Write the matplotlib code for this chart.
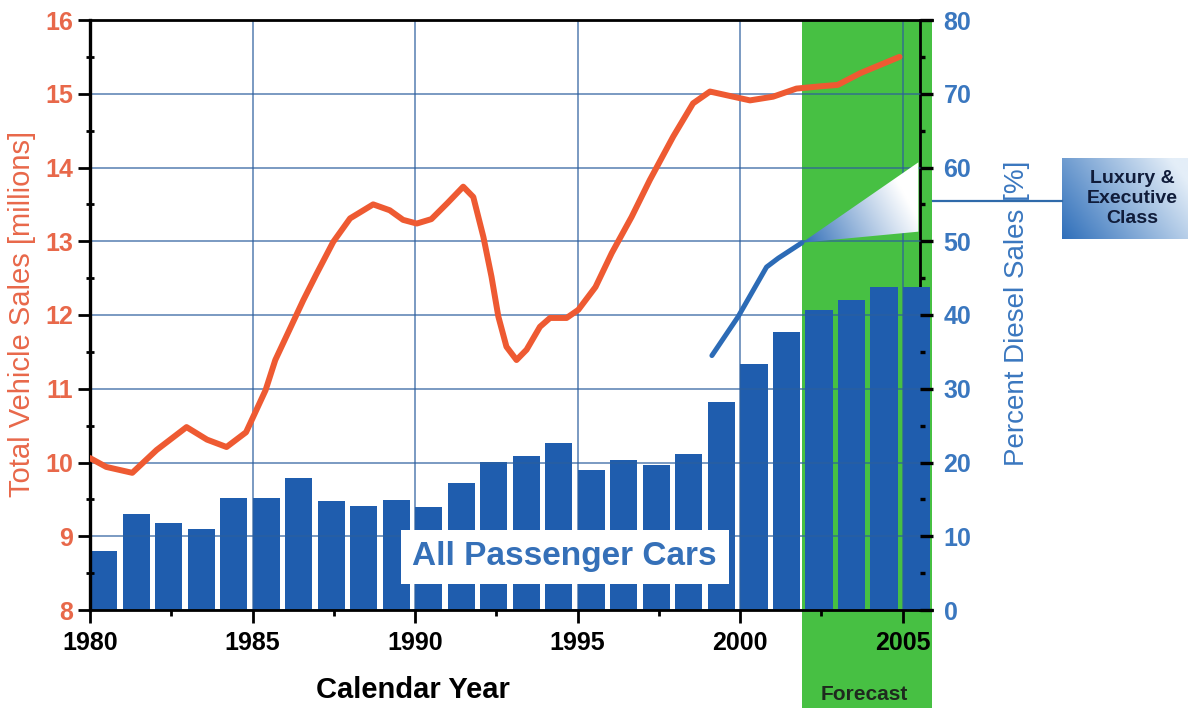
import numpy as np
import matplotlib
matplotlib.use("Agg")
import matplotlib.pyplot as plt
from matplotlib.patches import Polygon, Rectangle
from matplotlib.lines import Line2D
from matplotlib.ticker import MultipleLocator

plt.rcParams['font.family'] = ['Liberation Sans', 'DejaVu Sans']

# ---- data -------------------------------------------------------------
years = list(range(1980, 2006))
diesel_share = [8.0, 13.0, 11.8, 11.0, 15.2, 15.2, 17.9, 14.8, 14.1, 14.9,
                14.0, 17.2, 20.1, 20.9, 22.6, 19.0, 20.3, 19.7, 21.2, 28.2,
                33.4, 37.7, 40.7, 42.0, 43.8, 43.8]

sales_years = [1980.0, 1980.5, 1981.3, 1982.05, 1982.97, 1983.6, 1984.2, 1984.8,
               1985.0, 1985.4, 1985.7, 1986.56, 1986.96, 1987.48, 1988.0,
               1988.71, 1989.22, 1989.63, 1990.05, 1990.5, 1991.0, 1991.48,
               1991.79, 1992.1, 1992.35, 1992.56, 1992.81, 1993.12, 1993.43,
               1993.84, 1994.15, 1994.66, 1995.02, 1995.55, 1996.05, 1996.66,
               1997.22, 1997.94, 1998.55, 1999.07, 1999.58, 2000.3, 2001.01,
               2001.73, 2002.45, 2003.0, 2003.7, 2004.9]
sales_millions = [10.06, 9.94, 9.86, 10.17, 10.48, 10.31, 10.21, 10.41,
                  10.6, 10.98, 11.39, 12.2, 12.55, 12.99, 13.31,
                  13.5, 13.42, 13.29, 13.24, 13.3, 13.52, 13.74,
                  13.6, 13.06, 12.52, 11.98, 11.57, 11.39, 11.53,
                  11.84, 11.96, 11.96, 12.07, 12.38, 12.84, 13.33,
                  13.83, 14.42, 14.87, 15.03, 14.98, 14.91, 14.96,
                  15.07, 15.1, 15.12, 15.28, 15.5]

lux_years = [1999.13, 1999.94, 2000.81, 2001.17, 2001.9]
lux_share = [34.5, 39.8, 46.5, 47.7, 49.8]

# luxury forecast wedge: apex, upper and lower end
wedge_x = [2001.9, 2005.48, 2005.48]
wedge_y = [49.8, 60.7, 51.3]

forecast_start, forecast_end = 2001.91, 2005.9

# ---- colours ----------------------------------------------------------
ORANGE = '#EE5A32'
ORANGE_TXT = '#E8684A'
BAR_BLUE = '#1F5DAE'
LINE_BLUE = '#2C6BB6'
AXIS_BLUE = '#3A77BF'
GREEN = '#47C043'
GRID = '#2C5F9E'

W, H = 1191, 708
fig = plt.figure(figsize=(W / 100, H / 100), dpi=100)
fig.patch.set_facecolor('white')


def fx(px):
    return px / W


def fy(py):
    return 1 - py / H


ax = fig.add_axes([fx(90), fy(610), fx(932) - fx(90), fy(20) - fy(610)])
ax.set_xlim(1980, 2005.9)
ax.set_ylim(8, 16)
ax2 = ax.twinx()
ax2.set_ylim(0, 80)
ax.set_zorder(ax2.get_zorder() + 1)
ax.patch.set_visible(False)

# forecast band (also continues below the x axis)
ax2.axvspan(forecast_start, forecast_end, color=GREEN, zorder=0.5, lw=0)
ax2.add_patch(Rectangle((forecast_start, -0.25), forecast_end - forecast_start, 0.25,
                        transform=ax2.get_xaxis_transform(), clip_on=False,
                        color=GREEN, lw=0, zorder=0.5))

# diesel share bars
ax2.bar(years, diesel_share, width=0.84, align='edge', color=BAR_BLUE, zorder=1)

# grid lives on the percent axes so it sits over the bars
ax2.xaxis.set_visible(True)
ax2.xaxis.set_major_locator(MultipleLocator(5))
ax2.tick_params(axis='x', which='both', length=0, labelbottom=False, labeltop=False)
ax2.yaxis.set_major_locator(MultipleLocator(10))
ax2.yaxis.set_minor_locator(MultipleLocator(5))
ax2.grid(True, which='major', color=GRID, lw=1.1, alpha=0.8)

# luxury & executive class line and wedge
ax2.plot(lux_years, lux_share, color=LINE_BLUE, lw=3.6, solid_capstyle='round',
         solid_joinstyle='round', zorder=3)
poly = Polygon(list(zip(wedge_x, wedge_y)), closed=True, fc='none', ec='none',
               transform=ax2.transData)
ax2.add_patch(poly)
gx = np.linspace(0, 1, 200)
gy = np.linspace(0, 1, 100)
GX, GY = np.meshgrid(gx, gy)
t = np.clip(0.9 * GX + 0.35 * GY, 0, 1) ** 0.9
c0 = np.array(matplotlib.colors.to_rgb(LINE_BLUE))
img = c0[None, None, :] * (1 - t[..., None]) + np.ones(3)[None, None, :] * t[..., None]
im = ax2.imshow(img, extent=[min(wedge_x), max(wedge_x), min(wedge_y), max(wedge_y)],
                origin='lower', aspect='auto', zorder=3, interpolation='bilinear')
im.set_clip_path(poly)

# label over the bars
ax2.text(1994.6, 7.2, 'All Passenger Cars', ha='center', va='center',
         fontsize=24, fontweight='bold', color='#3570B8', zorder=4,
         bbox=dict(boxstyle='square,pad=0.35', fc='white', ec='none'))

# total vehicle sales line
ax.plot(sales_years, sales_millions, color=ORANGE, lw=4.3,
        solid_joinstyle='round', solid_capstyle='round', zorder=3)

# ---- axes styling -----------------------------------------------------
for s in ['left', 'bottom', 'top']:
    ax.spines[s].set_color('black')
ax.spines['left'].set_linewidth(2.4)
ax.spines['bottom'].set_linewidth(2.0)
ax.spines['top'].set_linewidth(2.0)
ax.spines['right'].set_visible(False)
for s in ['left', 'bottom', 'top']:
    ax2.spines[s].set_visible(False)
ax2.spines['right'].set_position(('axes', (920 - 90) / 842))
ax2.spines['right'].set_linewidth(2.0)
ax2.spines['right'].set_color('black')
ax2.spines['right'].set_zorder(0.8)

ax.xaxis.set_major_locator(MultipleLocator(5))
ax.xaxis.set_minor_locator(MultipleLocator(2.5))
ax.yaxis.set_major_locator(MultipleLocator(1))
ax.yaxis.set_minor_locator(MultipleLocator(0.5))
ax.tick_params(axis='x', which='major', direction='out', length=9, width=2,
               labelsize=18, pad=6, colors='black')
ax.tick_params(axis='x', which='minor', direction='out', length=4, width=2)
ax.tick_params(axis='y', which='major', direction='out', length=9, width=2,
               labelsize=18, pad=3, labelcolor=ORANGE_TXT, color='black')
ax.tick_params(axis='y', which='minor', direction='inout', length=6, width=2)
ax.tick_params(axis='y', which='both', right=False)
ax.tick_params(axis='x', which='both', top=False)
for lab in ax.get_xticklabels() + ax.get_yticklabels():
    lab.set_fontweight('bold')

ax2.tick_params(axis='y', which='major', direction='out', length=9, width=2.4,
                labelsize=18, pad=8, labelcolor=AXIS_BLUE, color='black')
ax2.tick_params(axis='y', which='minor', direction='out', length=3.5, width=2.4,
                color='black')
for lab in ax2.get_yticklabels():
    lab.set_fontweight('bold')

# axis titles
fig.text(fx(22), fy(314), 'Total Vehicle Sales [millions]', rotation=90,
         ha='center', va='center', fontsize=21, color=ORANGE_TXT)
fig.text(fx(1017), fy(313), 'Percent Diesel Sales [%]', rotation=90,
         ha='center', va='center', fontsize=20, color=AXIS_BLUE)
fig.text(fx(413), fy(690), 'Calendar Year', ha='center', va='center',
         fontsize=21, fontweight='bold', color='black')
fig.text(fx(864), fy(694), 'Forecast', ha='center', va='center',
         fontsize=15, fontweight='bold', color='#1E2A1E')

# callout for the luxury wedge
fig.add_artist(Line2D([fx(933), fx(1062)], [fy(201), fy(201)],
                      color='#2F6AAA', lw=1.6))
bx = fig.add_axes([fx(1062), fy(239), fx(1188) - fx(1062), fy(158) - fy(239)])
bx.set_axis_off()
u = np.linspace(0, 1, 120)
v = np.linspace(0, 1, 60)
U, V = np.meshgrid(u, v)
tb = np.clip(0.75 * U + 0.35 * V, 0, 1)
cb0 = np.array(matplotlib.colors.to_rgb('#2F6FBA'))
cb1 = np.array(matplotlib.colors.to_rgb('#E4EEF8'))
bimg = cb0[None, None, :] * (1 - tb[..., None]) + cb1[None, None, :] * tb[..., None]
bx.imshow(bimg, extent=[0, 1, 0, 1], origin='lower', aspect='auto')
bx.set_xlim(0, 1)
bx.set_ylim(0, 1)
bx.text(0.56, 0.5, 'Luxury &\nExecutive\nClass', ha='center', va='center',
        fontsize=14, fontweight='bold', color='#101C3A', linespacing=1.25)

fig.savefig('out.png', dpi=100)
